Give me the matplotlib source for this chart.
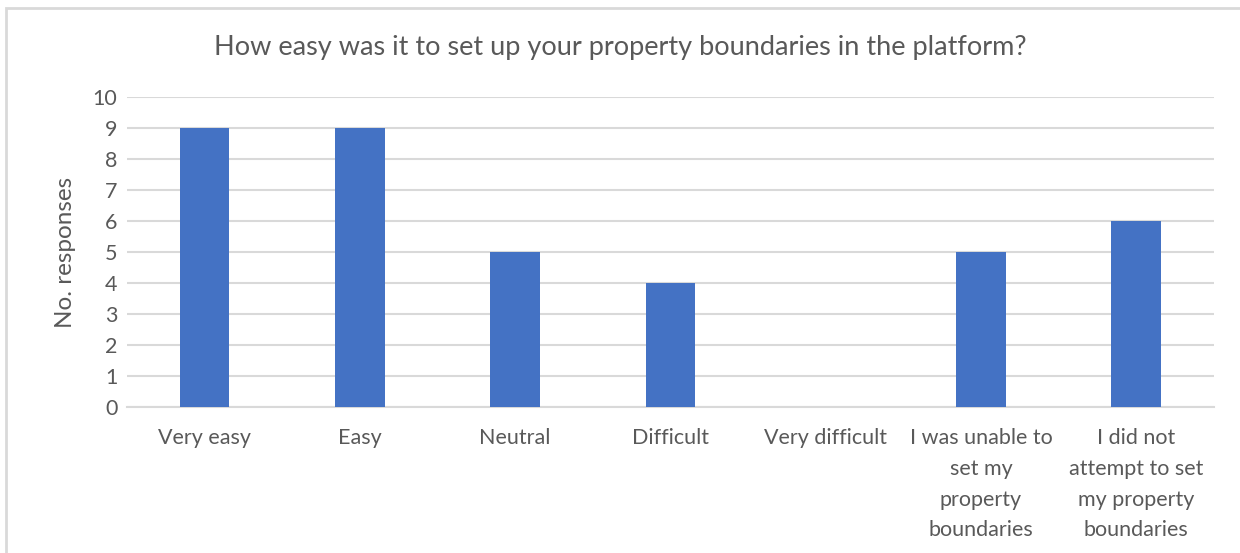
import matplotlib.pyplot as plt
from matplotlib.patches import Rectangle

# Data
categories = ["Very easy", "Easy", "Neutral", "Difficult", "Very difficult",
              "I was unable to\nset my\nproperty\nboundaries",
              "I did not\nattempt to set\nmy property\nboundaries"]
responses = [9, 9, 5, 4, 0, 5, 6]
y_ticks = list(range(0, 11))

title = "How easy was it to set up your property boundaries in the platform?"
y_label = "No. responses"

text_color = "#595959"
bar_color = "#4472C4"
grid_color = "#D9D9D9"

plt.rcParams['font.family'] = ['Lato', 'DejaVu Sans']

fig = plt.figure(figsize=(12.4, 5.53), dpi=100)
ax = fig.add_axes([0.1024, 0.264, 0.8766, 0.5606])

x = list(range(len(categories)))
ax.bar(x, responses, width=0.32, color=bar_color, zorder=3)

ax.set_xlim(-0.5, len(categories) - 0.5)
ax.set_ylim(0, 10)
ax.set_yticks(y_ticks)
ax.set_xticks(x)
ax.set_xticklabels(categories, fontsize=15.5, color=text_color, linespacing=1.68)
ax.tick_params(axis="y", labelsize=15.5, labelcolor=text_color, length=0, pad=7)
ax.tick_params(axis="x", length=0, pad=15)

# Excel-style horizontal gridlines
ax.yaxis.grid(True, color=grid_color, linewidth=1.5, zorder=0)
for side in ["top", "right", "left"]:
    ax.spines[side].set_visible(False)
ax.spines["bottom"].set_color(grid_color)
ax.spines["bottom"].set_linewidth(1.5)

ax.set_ylabel(y_label, fontsize=17.5, color=text_color, labelpad=12)
fig.text(0.5, 1 - 48 / 553, title, ha="center", va="center",
         fontsize=19.5, color=text_color)

# Chart border
fig.patches.append(Rectangle((6 / 1240, -0.1), 1.2, 1 - 8 / 553 + 0.1,
                             transform=fig.transFigure, fill=False,
                             edgecolor=grid_color, linewidth=2))

fig.savefig("out.png", dpi=100)
